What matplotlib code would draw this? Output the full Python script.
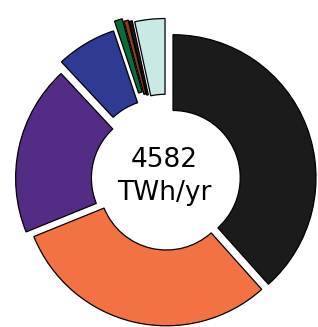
import numpy as np
import matplotlib.pyplot as plt

# shares of the 4582 TWh/yr total (percent), clockwise from 12 o'clock
labels = ["black", "orange", "purple", "blue", "green", "brown", "dark", "teal"]
shares = [38.4, 30.5, 19.2, 6.8, 0.9, 0.5, 0.35, 3.4]
colors = ["#1b1b1b", "#f27244", "#532c86", "#2f3a93", "#0a6b3b", "#8b3b17", "#1b1b1b", "#c9e9e5"]
explode = [0.045, 0.02, 0.06, 0.11, 0.17, 0.15, 0.14, 0.13]
total = 4582

fig = plt.figure(figsize=(3.18, 3.27), dpi=100)
ax = fig.add_axes([0, 0, 1, 1])

ax.pie(shares, colors=colors, explode=explode, startangle=90, counterclock=False,
       wedgeprops=dict(width=0.53, edgecolor="black", linewidth=0.9))

ax.text(-0.021, 0.091, f"{total}", ha="center", va="baseline", fontsize=19)
ax.text(-0.021, -0.140, "TWh/yr", ha="center", va="baseline", fontsize=19)

# the original is cropped: centre near (167, 180) px, radius ~143 px
s = 143.0
cx, cy = 167.0, 180.0
ax.set_xlim(-cx / s, (318 - cx) / s)
ax.set_ylim(-(327 - cy) / s, cy / s)
ax.set_aspect("auto")
ax.axis("off")

fig.savefig("out.png", dpi=100)
